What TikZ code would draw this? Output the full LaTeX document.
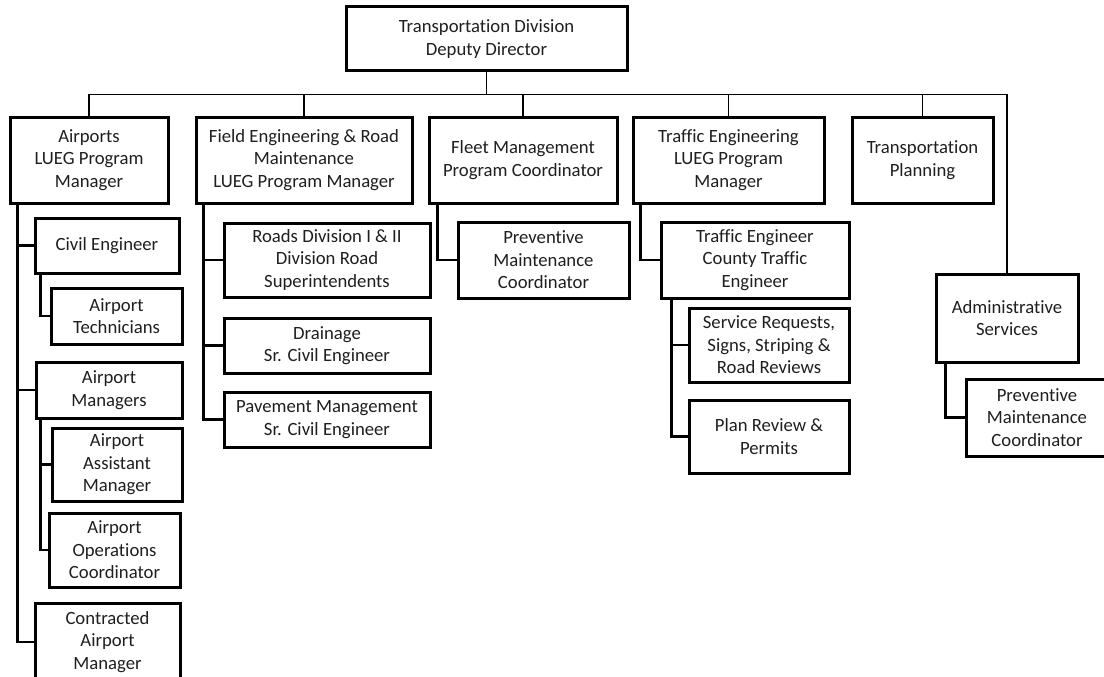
\documentclass[tikz,border=0pt]{standalone}
\usepackage{fontspec}
\setmainfont{Carlito}[Ligatures={NoCommon}]
\begin{document}
\begin{tikzpicture}[x=1pt,y=-1pt,
  box/.style={draw=black, line width=3pt, fill=white, align=center, inner sep=0pt,
    font=\fontsize{18.7}{22.5}\selectfont, text=black!88},
  conn/.style={draw=black, line width=2.1pt},
  bus/.style={draw=black, line width=1.9pt}]
\useasboundingbox (0,0) rectangle (1104,677);
\clip (0,0) rectangle (1104,677);
% level 0
\node[box, minimum width=281, minimum height=64] (top) at (486.5,39) {Transportation Division\\Deputy Director};
% level 1
\node[box, minimum width=158, minimum height=86] (air) at (89,160) {Airports\\LUEG Program\\Manager};
\node[box, minimum width=216, minimum height=86] (field) at (304,160) {Field Engineering \& Road\\Maintenance\\LUEG Program Manager};
\node[box, minimum width=188, minimum height=86] (fleet) at (523,160) {Fleet Management\\Program Coordinator};
\node[box, minimum width=191, minimum height=86] (traffic) at (728.5,160) {Traffic Engineering\\LUEG Program\\Manager};
\node[box, minimum width=141, minimum height=86] (tplan) at (922.5,160) {Transportation\\Planning};
\node[box, minimum width=142, minimum height=88] (admin) at (1007,318) {Administrative\\Services};
% airports branch
\node[box, minimum width=144, minimum height=55] (civil) at (107,245.5) {Civil Engineer};
\node[box, minimum width=131, minimum height=56] (airtech) at (116.5,316) {Airport\\Technicians};
\node[box, minimum width=146, minimum height=56] (airmgr) at (109,390) {Airport\\Managers};
\node[box, minimum width=130, minimum height=73] (asst) at (117,464.5) {Airport\\Assistant\\Manager};
\node[box, minimum width=131, minimum height=74] (ops) at (114.5,550) {Airport\\Operations\\Coordinator};
\node[box, minimum width=145, minimum height=78] (contract) at (107.5,642) {Contracted\\Airport\\Manager};
% field engineering branch
\node[box, minimum width=206, minimum height=74] (roads) at (327,260) {Roads Division I \& II\\Division Road\\Superintendents};
\node[box, minimum width=206, minimum height=55] (drain) at (327,345.5) {Drainage\\Sr. Civil Engineer};
\node[box, minimum width=206, minimum height=55] (pave) at (327,419.5) {Pavement Management\\Sr. Civil Engineer};
% fleet branch
\node[box, minimum width=171, minimum height=76] (fleetpm) at (543.5,260) {Preventive\\Maintenance\\Coordinator};
% traffic branch
\node[box, minimum width=188, minimum height=76] (te) at (755,260) {Traffic Engineer\\County Traffic\\Engineer};
\node[box, minimum width=160, minimum height=74] (svc) at (769,345) {Service Requests,\\Signs, Striping \&\\Road Reviews};
\node[box, minimum width=160, minimum height=73] (plan) at (769,436.5) {Plan Review \&\\Permits};
% admin branch
\node[box, minimum width=142, minimum height=77] (adminpm) at (1037,417.5) {Preventive\\Maintenance\\Coordinator};

% top-level connectors
\draw[bus] (top.south) -- ++(0,22) -| (air.north);
\draw[bus] (top.south) -- ++(0,22) -| (field.north);
\draw[bus] (top.south) -- ++(0,22) -| (fleet.north);
\draw[bus] (top.south) -- ++(0,22) -| (traffic.north);
\draw[bus] (top.south) -- ++(0,22) -| (tplan.north);
\draw[bus] (top.south) -- ++(0,22) -| (admin.north);
% airports
\draw[conn] (civil.west) -| ([xshift=9pt]air.south west);
\draw[conn] (airmgr.west) -| ([xshift=9pt]air.south west);
\draw[conn] (contract.west) -| ([xshift=9pt]air.south west);
\draw[conn] (airtech.west) -| ([xshift=7pt]civil.south west);
\draw[conn] (asst.west) -| ([xshift=6pt]airmgr.south west);
\draw[conn] (ops.west) -| ([xshift=6pt]airmgr.south west);
% field
\draw[conn] (roads.west) -| ([xshift=9pt]field.south west);
\draw[conn] (drain.west) -| ([xshift=9pt]field.south west);
\draw[conn] (pave.west) -| ([xshift=9pt]field.south west);
% fleet
\draw[conn] (fleetpm.west) -| ([xshift=10pt]fleet.south west);
% traffic
\draw[conn] (te.west) -| ([xshift=9pt]traffic.south west);
\draw[conn] (svc.west) -| ([xshift=12pt]te.south west);
\draw[conn] (plan.west) -| ([xshift=12pt]te.south west);
% admin
\draw[conn] (adminpm.west) -| ([xshift=11pt]admin.south west);
\end{tikzpicture}
\end{document}
